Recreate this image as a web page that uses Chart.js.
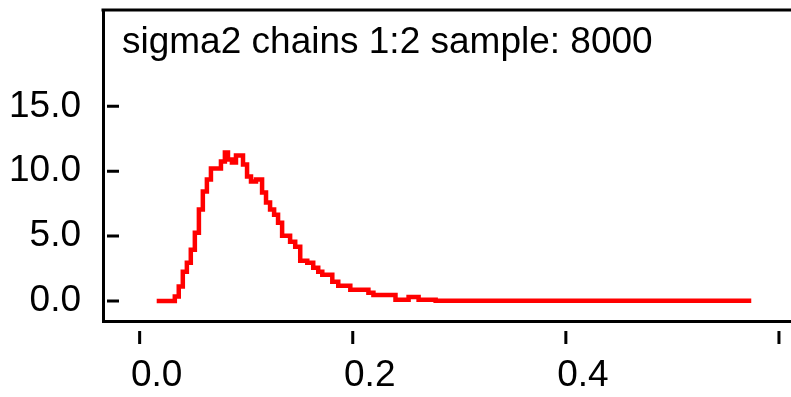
<!DOCTYPE html>
<html>
<head>
<meta charset="utf-8">
<script src="https://cdn.jsdelivr.net/npm/chart.js@4.4.1/dist/chart.umd.min.js"></script>
<style>
body { margin: 0; background: #fff; }
</style>
</head>
<body>
<canvas id="density" width="791" height="397"></canvas>
<script>
var titleText = "sigma2 chains 1:2 sample: 8000";

// start of each step and the density level from there on
var sampleX = [0.016, 0.033, 0.0367, 0.0405, 0.0443, 0.048, 0.0518, 0.0556, 0.0593, 0.0631,
    0.0669, 0.0763, 0.080, 0.0829, 0.0866, 0.0904, 0.097, 0.1008, 0.1045, 0.1092,
    0.1149, 0.1186, 0.1224, 0.1262, 0.1299, 0.1337, 0.1412, 0.146, 0.1507, 0.1573,
    0.1629, 0.1676, 0.1714, 0.1808, 0.1864, 0.1977, 0.2147, 0.2194, 0.2401, 0.2524,
    0.2618, 0.2778, 0.574];
var densityY = [0, 0.33, 1.11, 2.24, 2.94, 3.94, 5.26, 7.04, 8.43, 9.36,
    10.2, 10.75, 11.45, 10.9, 10.67, 11.21, 10.52, 9.59, 9.2, 9.36,
    8.35, 7.58, 7.04, 6.65, 6.03, 5.03, 4.56, 4.18, 3.1, 2.94,
    2.55, 2.24, 2.01, 1.47, 1.16, 0.85, 0.62, 0.46, 0.08, 0.31,
    0.08, 0.01, 0.01];

var xTickValues = [0, 0.2, 0.4, 0.6];
var xTickLabels = ["0.0", "0.2", "0.4", ""];
var yTickValues = [0, 5, 10, 15];
var yTickLabels = ["0.0", "5.0", "10.0", "15.0"];

var points = sampleX.map(function(x, i) { return {x: x, y: densityY[i]}; });
var tickFont = {family: '"Liberation Sans", Arial, sans-serif', size: 37};

function noPadding(s) {
    s.paddingTop = 0;
    s.paddingBottom = 0;
    s.paddingLeft = 0;
    s.paddingRight = 0;
}

// frame top line, detached tick marks and the title inside the box
var boxPlugin = {
    id: 'box',
    afterDraw: function(chart) {
        var ctx = chart.ctx, area = chart.chartArea;
        var xs = chart.scales.x, ys = chart.scales.y;
        ctx.save();
        ctx.strokeStyle = '#000';
        ctx.lineWidth = 3;
        ctx.beginPath();
        ctx.moveTo(area.left - 1.5, area.top);
        ctx.lineTo(chart.width, area.top);
        yTickValues.forEach(function(v) {
            var py = ys.getPixelForValue(v);
            ctx.moveTo(area.left + 4, py);
            ctx.lineTo(area.left + 16, py);
        });
        xTickValues.forEach(function(v) {
            var px = xs.getPixelForValue(v);
            ctx.moveTo(px, area.bottom + 10);
            ctx.lineTo(px, area.bottom + 23);
        });
        ctx.stroke();
        ctx.fillStyle = '#000';
        ctx.font = '37px "Liberation Sans", Arial, sans-serif';
        ctx.textBaseline = 'alphabetic';
        ctx.fillText(titleText, 122, 53);
        ctx.restore();
    }
};

new Chart(document.getElementById("density"), {
    type: 'line',
    data: {
        datasets: [{
            data: points,
            borderColor: '#ff0000',
            borderWidth: 4.5,
            stepped: 'before',
            fill: false,
            pointRadius: 0,
            tension: 0
        }]
    },
    options: {
        responsive: false,
        animation: false,
        layout: { padding: { top: 10, left: 0, right: 0, bottom: 0 } },
        plugins: { legend: { display: false }, tooltip: { enabled: false } },
        scales: {
            x: {
                type: 'linear',
                min: -0.0344,
                max: 0.6113,
                afterFit: function(s) { s.height = 76; noPadding(s); },
                afterBuildTicks: function(s) { s.ticks = xTickValues.map(function(v) { return {value: v}; }); },
                ticks: {
                    padding: 33,
                    labelOffset: 17,
                    autoSkip: false,
                    maxRotation: 0,
                    color: '#000',
                    font: tickFont,
                    callback: function(v) { return xTickLabels[xTickValues.indexOf(v)]; }
                },
                grid: { drawOnChartArea: false, drawTicks: false },
                border: { display: true, color: '#000', width: 3 }
            },
            y: {
                type: 'linear',
                min: -1.55,
                max: 22.43,
                afterFit: function(s) { s.width = 103; noPadding(s); },
                afterBuildTicks: function(s) { s.ticks = yTickValues.map(function(v) { return {value: v}; }); },
                ticks: {
                    padding: 22,
                    autoSkip: false,
                    color: '#000',
                    font: tickFont,
                    callback: function(v) { return yTickLabels[yTickValues.indexOf(v)]; }
                },
                grid: { drawOnChartArea: false, drawTicks: false },
                border: { display: true, color: '#000', width: 3 }
            }
        }
    },
    plugins: [boxPlugin]
});
</script>
</body>
</html>
